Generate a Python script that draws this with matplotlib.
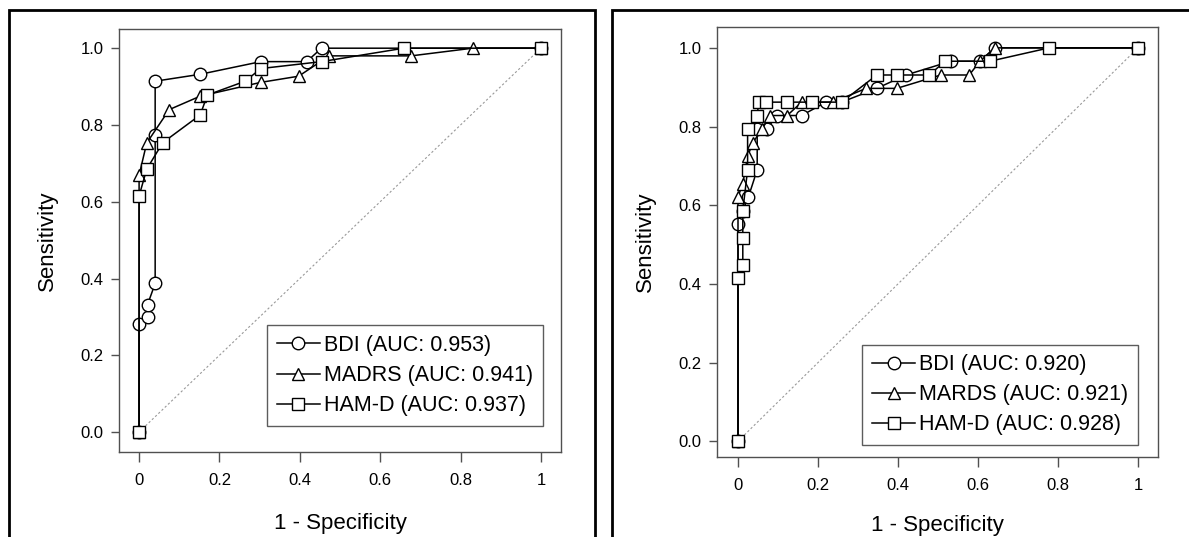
import matplotlib
matplotlib.use("Agg")
import matplotlib.pyplot as plt
from matplotlib.patches import Rectangle

plt.rcParams['font.family'] = ['Liberation Sans', 'DejaVu Sans']

# ---- data: left panel ----
left_bdi_x = [0, 0, 0.021, 0.021, 0.04, 0.04, 0.04, 0.152, 0.303, 0.417, 0.454, 1.0]
left_bdi_y = [0, 0.281, 0.299, 0.332, 0.387, 0.773, 0.914, 0.932, 0.965, 0.965, 1.0, 1.0]
left_madrs_x = [0, 0, 0.019, 0.075, 0.152, 0.303, 0.397, 0.473, 0.677, 0.83, 1.0]
left_madrs_y = [0, 0.669, 0.753, 0.840, 0.875, 0.911, 0.927, 0.98, 0.98, 1.0, 1.0]
left_hamd_x = [0, 0, 0.019, 0.059, 0.152, 0.170, 0.264, 0.303, 0.454, 0.659, 1.0]
left_hamd_y = [0, 0.615, 0.685, 0.754, 0.826, 0.878, 0.914, 0.947, 0.965, 1.0, 1.0]
left_labels = ['BDI (AUC: 0.953)', 'MADRS (AUC: 0.941)', 'HAM-D (AUC: 0.937)']

# ---- data: right panel ----
right_bdi_x = [0, 0, 0.012, 0.026, 0.048, 0.048, 0.072, 0.097, 0.159, 0.22, 0.259,
               0.347, 0.42, 0.532, 0.605, 0.642, 1.0]
right_bdi_y = [0, 0.552, 0.586, 0.621, 0.69, 0.793, 0.793, 0.828, 0.828, 0.862, 0.862,
               0.897, 0.931, 0.966, 0.966, 1.0, 1.0]
right_mards_x = [0, 0, 0.012, 0.024, 0.037, 0.06, 0.08, 0.123, 0.159, 0.238, 0.32,
                 0.397, 0.507, 0.578, 0.605, 0.642, 1.0]
right_mards_y = [0, 0.621, 0.655, 0.724, 0.759, 0.793, 0.828, 0.828, 0.862, 0.862, 0.897,
                 0.897, 0.931, 0.931, 0.966, 1.0, 1.0]
right_hamd_x = [0, 0, 0.012, 0.012, 0.012, 0.024, 0.024, 0.047, 0.053, 0.07, 0.123,
                0.184, 0.259, 0.347, 0.397, 0.478, 0.518, 0.63, 0.778, 1.0]
right_hamd_y = [0, 0.414, 0.448, 0.517, 0.586, 0.69, 0.793, 0.828, 0.862, 0.862, 0.862,
                0.862, 0.862, 0.931, 0.931, 0.931, 0.966, 0.966, 1.0, 1.0]
right_labels = ['BDI (AUC: 0.920)', 'MARDS (AUC: 0.921)', 'HAM-D (AUC: 0.928)']

x_ticks = [0, 0.2, 0.4, 0.6, 0.8, 1.0]
x_ticklabels = ['0', '0.2', '0.4', '0.6', '0.8', '1']
y_ticks = [0, 0.2, 0.4, 0.6, 0.8, 1.0]
y_ticklabels = ['0.0', '0.2', '0.4', '0.6', '0.8', '1.0']

W, H = 1189, 537
fig = plt.figure(figsize=(W / 100, H / 100), dpi=100)


def px_axes(x0, y0, x1, y1):
    # pixel box (top-left origin) -> figure fraction
    return fig.add_axes([x0 / W, 1 - y1 / H, (x1 - x0) / W, (y1 - y0) / H])


# outer frames around each panel
fig.patches.append(Rectangle((9 / W, -0.1), (595 - 9) / W, 1.1 - 10 / H,
                             transform=fig.transFigure, fill=False,
                             edgecolor='black', linewidth=2))
fig.patches.append(Rectangle((612 / W, -0.1), (1195 - 612) / W, 1.1 - 10 / H,
                             transform=fig.transFigure, fill=False,
                             edgecolor='black', linewidth=2))


def draw_panel(ax, series, labels, xlim, ylim, leg_anchor, xpad):
    markers = ['o', '^', 's']
    # chance line
    ax.plot([0, 1], [0, 1], color='#999999', linestyle=(0, (2, 2)), linewidth=0.8, zorder=1)
    handles = []
    for (xs, ys), m, lab in zip(series, markers, labels):
        h, = ax.plot(xs, ys, color='black', linewidth=1.1, marker=m,
                     markersize=9 if m != '^' else 8.5,
                     markerfacecolor='white', markeredgecolor='black', markeredgewidth=1.0,
                     label=lab, zorder=3)
        handles.append(h)
    ax.set_xlim(*xlim)
    ax.set_ylim(*ylim)
    ax.set_xticks(x_ticks)
    ax.set_xticklabels(x_ticklabels)
    ax.set_yticks(y_ticks)
    ax.set_yticklabels(y_ticklabels)
    for s in ax.spines.values():
        s.set_color('#505050')
        s.set_linewidth(1.0)
    ax.tick_params(axis='x', length=7, width=1, color='#505050', pad=8, labelsize=12)
    ax.tick_params(axis='y', length=6, width=1, color='#505050', pad=5, labelsize=12)
    ax.set_xlabel('1 - Specificity', fontsize=16, labelpad=xpad)
    ax.set_ylabel('Sensitivity', fontsize=16, labelpad=16)
    leg = ax.legend(handles=handles, loc='lower right', bbox_to_anchor=leg_anchor,
                    borderaxespad=0, fontsize=15.5, frameon=True, fancybox=False,
                    handlelength=2.0, handletextpad=0.2, labelspacing=0.42,
                    borderpad=0.45)
    leg.get_frame().set_edgecolor('#333333')
    leg.get_frame().set_linewidth(1.0)


ax1 = px_axes(119, 29, 561, 452)
draw_panel(ax1, [(left_bdi_x, left_bdi_y), (left_madrs_x, left_madrs_y), (left_hamd_x, left_hamd_y)],
           left_labels, (-0.05, 1.05), (-0.052, 1.05), (0.959, 0.062), 18)

ax2 = px_axes(717, 27, 1158, 457)
draw_panel(ax2, [(right_bdi_x, right_bdi_y), (right_mards_x, right_mards_y), (right_hamd_x, right_hamd_y)],
           right_labels, (-0.0525, 1.05), (-0.04, 1.053), (0.955, 0.028), 16)

fig.savefig('out.png', dpi=100)
